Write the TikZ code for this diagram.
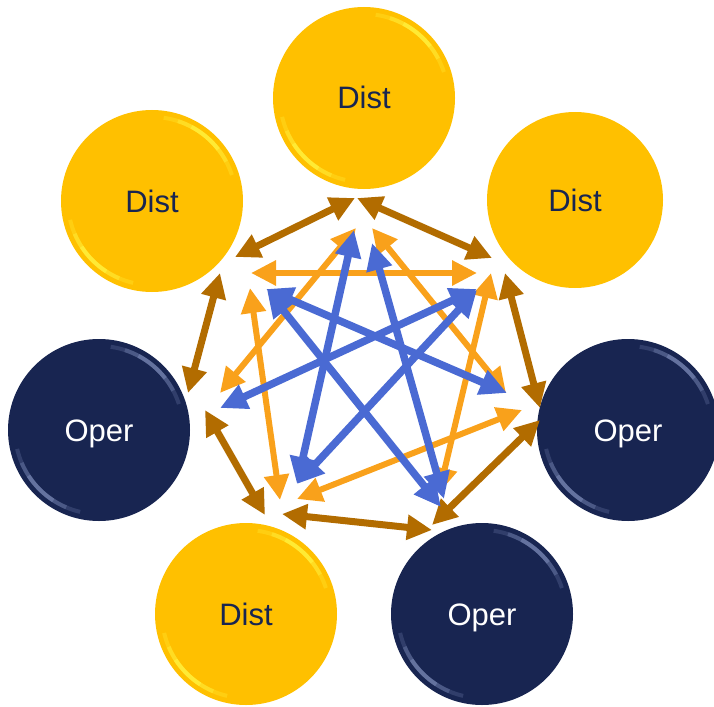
\documentclass[tikz,border=0pt]{standalone}
\usepackage{fontspec}
\setmainfont{Liberation Sans}
\usepackage{tikz}
\usetikzlibrary{arrows.meta}
\definecolor{gold}{RGB}{255,192,0}
\definecolor{navy}{RGB}{24,37,81}
\definecolor{brn}{RGB}{178,108,0}
\definecolor{orng}{RGB}{249,161,27}
\definecolor{blu}{RGB}{74,106,211}
\definecolor{goldshine}{RGB}{255,248,70}
\definecolor{navyshine}{RGB}{125,140,185}

\begin{document}
\begin{tikzpicture}[x=1pt,y=-1pt,
ball/.style={
	circle, minimum size=182pt, inner sep=0pt,
	text height=22pt, text depth=0pt,
	font=\fontsize{31}{31}\selectfont
},
dist/.style={ball, fill=gold, text=navy},
oper/.style={ball, fill=navy, text=white},
gloss/.style={path picture={
	\foreach \s/\o in {32/.25,22/.35,12/.5}{
		\draw[#1, line width=4pt, opacity=\o] (path picture bounding box.center)
			++(-50+\s:84) arc[start angle=-50+\s, end angle=-50-\s, radius=84];
		\draw[#1, line width=4pt, opacity=\o] (path picture bounding box.center)
			++(135+\s:84) arc[start angle=135+\s, end angle=135-\s, radius=84];
	}
}},
link/.style={>={Triangle[length=25pt,width=24pt]}, <->},
brnlink/.style={link, draw=brn, line width=7pt},
orglink/.style={link, draw=orng, line width=6pt},
blulink/.style={link, draw=blu, line width=7.5pt, >={Triangle[length=27pt,width=25pt]}}
]
\useasboundingbox (0,0) rectangle (714,706);

% the seven balls
\node[dist, gloss=goldshine] (d1) at (364,98) {Dist};
\node[dist, gloss=goldshine] (d2) at (152,201) {Dist};
\node[dist, minimum size=176pt] (d3) at (575,200) {Dist};
\node[oper, gloss=navyshine] (o1) at (99,430) {Oper};
\node[oper, gloss=navyshine] (o2) at (628,430) {Oper};
\node[dist, gloss=goldshine] (d4) at (246,614) {Dist};
\node[oper, gloss=navyshine] (o3) at (482,614) {Oper};

% arrow ends
\foreach \n/\x/\y in {
	b1s/355/198, b1e/235/257, b2s/357/198, b2e/492/258,
	b3s/505/273, b3e/540/408, b4s/540/420, b4e/432/525,
	b5s/432/530, b5e/282/514, b6s/265/515, b6e/205/410,
	b7s/188/393, b7e/220/273,
	r1s/251/273, r1e/477/273, r2s/356/228, r2e/220/393,
	r3s/372/228, r3e/506/393, r4s/491/273, r4e/439/493,
	r5s/522/410, r5e/297/499, r6s/250/288, r6e/280/500,
	u1s/354/230, u1e/297/484, u2s/372/243, u2e/444/499,
	u3s/266/289, u3e/507/393, u4s/267/290, u4e/441/507,
	u5s/477/289, u5e/220/408, u6s/477/290, u6e/297/484}
	\coordinate (\n) at (\x,\y);

% ring, short star, long star
\foreach \i in {1,...,7}
	\draw[brnlink] (b\i s) -- (b\i e);
\foreach \i in {1,...,6}
	\draw[orglink] (r\i s) -- (r\i e);
\foreach \i in {1,...,6}
	\draw[blulink] (u\i s) -- (u\i e);
\end{tikzpicture}
\end{document}
